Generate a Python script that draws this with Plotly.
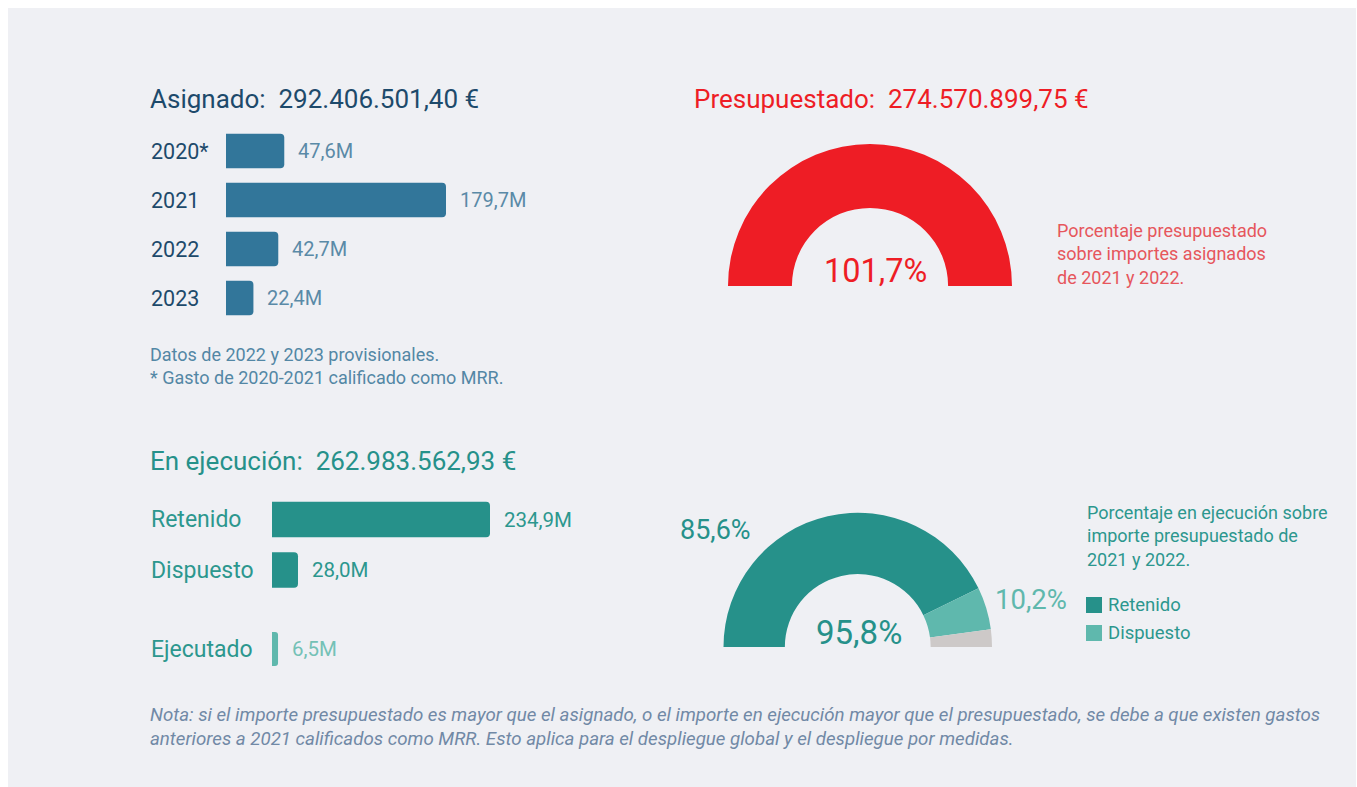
import plotly.graph_objects as go

# ---- data ----
years = ["2020*", "2021", "2022", "2023"]
asignado_m = [47.6, 179.7, 42.7, 22.4]
asignado_lbl = ["47,6M", "179,7M", "42,7M", "22,4M"]

ejec_cats = ["Retenido", "Dispuesto"]
ejec_m = [234.9, 28.0]
ejec_lbl = ["234,9M", "28,0M"]
ejecutado_cat = ["Ejecutado"]
ejecutado_m = [6.5]
ejecutado_lbl = ["6,5M"]

pct_presupuestado = 101.7
pct_retenido = 85.6
pct_dispuesto = 10.2
pct_ejecucion = 95.8

total_asignado = "292.406.501,40 €"
total_presupuestado = "274.570.899,75 €"
total_ejecucion = "262.983.562,93 €"

# ---- style ----
W, H = 1357, 787
FONT = "Roboto"
BG = "#eff0f4"
NAVY = "#1d4a6b"
STEEL = "#32769a"
STEEL_TXT = "#5a8aa7"
NOTE_TXT = "#5387a5"
RED = "#ee1d25"
RED_TXT = "#e6565c"
TEAL = "#26918a"
TEAL_TXT = "#2c978e"
TEAL_LIGHT = "#5fb8ad"
GREY = "#cdc9c8"
NOTA_TXT = "#7189a6"


def px(x):
    return x / W


def py(y):
    return 1 - y / H


def pct(v):
    return f"{v:.1f}%".replace(".", ",")


fig = go.Figure()

# Asignado bars
fig.add_trace(go.Bar(
    x=asignado_m, y=years, orientation="h", xaxis="x", yaxis="y",
    marker=dict(color=STEEL, cornerradius=4, line=dict(width=0)),
    width=0.7, hoverinfo="skip", showlegend=False,
))
# En ejecución bars
fig.add_trace(go.Bar(
    x=ejec_m, y=ejec_cats, orientation="h", xaxis="x2", yaxis="y2",
    marker=dict(color=TEAL, cornerradius=4, line=dict(width=0)),
    width=0.7, hoverinfo="skip", showlegend=False,
))
fig.add_trace(go.Bar(
    x=ejecutado_m, y=ejecutado_cat, orientation="h", xaxis="x2", yaxis="y3",
    marker=dict(color=TEAL_LIGHT, cornerradius=3, line=dict(width=0)),
    width=0.68, hoverinfo="skip", showlegend=False,
))

# Half-donut: presupuestado (capped at a full semicircle)
fill = min(pct_presupuestado, 100)
fig.add_trace(go.Pie(
    values=[fill, 100 - fill, 100],
    marker=dict(colors=[RED, GREY, "rgba(0,0,0,0)"], line=dict(width=0)),
    hole=0.55, rotation=-90, direction="clockwise", sort=False,
    textinfo="none", hoverinfo="skip", showlegend=False,
    domain=dict(x=[px(728), px(1012)], y=[py(428), py(144)]),
))

# Half-donut: en ejecución
rest = round(100 - pct_retenido - pct_dispuesto, 1)
fig.add_trace(go.Pie(
    values=[pct_retenido, pct_dispuesto, rest, 100],
    marker=dict(colors=[TEAL, TEAL_LIGHT, GREY, "rgba(0,0,0,0)"], line=dict(width=0)),
    hole=0.543, rotation=-90, direction="clockwise", sort=False,
    textinfo="none", hoverinfo="skip", showlegend=False,
    domain=dict(x=[px(723.5), px(992)], y=[py(781.3), py(512.7)]),
))

hidden = dict(visible=False, showgrid=False, zeroline=False, fixedrange=True)
fig.update_layout(
    width=W, height=H, margin=dict(l=0, r=0, t=0, b=0),
    paper_bgcolor="white", plot_bgcolor="rgba(0,0,0,0)",
    font=dict(family=FONT),
    xaxis=dict(domain=[px(226), px(600)], range=[0, 374 / (220 / 179.7)], anchor="y", **hidden),
    yaxis=dict(domain=[py(322.5), py(126.5)], type="category", categoryorder="array",
               categoryarray=years, range=[3.5, -0.5], anchor="x", **hidden),
    xaxis2=dict(domain=[px(272), px(600)], range=[0, 328 / (218 / 234.9)], anchor="y2", **hidden),
    yaxis2=dict(domain=[py(595.25), py(494.25)], type="category", categoryorder="array",
                categoryarray=ejec_cats, range=[1.5, -0.5], anchor="x2", **hidden),
    yaxis3=dict(domain=[py(674), py(624)], type="category", range=[0.5, -0.5],
                anchor="x2", **hidden),
    showlegend=False,
)

# background panel
fig.add_shape(type="rect", xref="paper", yref="paper", x0=px(8), x1=px(1356),
              y0=py(H + 5), y1=py(8), fillcolor=BG, line=dict(width=0), layer="below")

annotations = []


def txt(x, y, text, size, color, xanchor="left", italic=False, xref="paper", yref="paper", xshift=0):
    annotations.append(dict(
        x=x, y=y, xref=xref, yref=yref, text=text, showarrow=False,
        xanchor=xanchor, yanchor="middle", xshift=xshift, align=xanchor if xanchor != "center" else "center",
        font=dict(family=FONT, size=size, color=color, style="italic" if italic else "normal"),
    ))


# headings
txt(px(148), py(99), "Asignado:\u00a0 " + total_asignado, 26, NAVY)
txt(px(692), py(99), "Presupuestado:\u00a0 " + total_presupuestado, 26, RED)
txt(px(148), py(461), "En ejecución:\u00a0 " + total_ejecucion, 26, TEAL)

# asignado bar labels (category index positions)
for i, (yr, v, lb) in enumerate(zip(years, asignado_m, asignado_lbl)):
    txt(px(149), i, yr, 21.5, NAVY, yref="y")
    txt(v, i, lb, 20, STEEL_TXT, xref="x", yref="y", xshift=12)

txt(px(148), py(355), "Datos de 2022 y 2023 provisionales.", 18, NOTE_TXT)
txt(px(148), py(378), "* Gasto de 2020-2021 calificado como MRR.", 18, NOTE_TXT)

# ejecución bar labels
for i, (c, v, lb) in enumerate(zip(ejec_cats, ejec_m, ejec_lbl)):
    txt(px(149), i, c, 23, TEAL_TXT, yref="y2")
    txt(v, i, lb, 20.5, TEAL_TXT, xref="x2", yref="y2", xshift=12)
for i, (c, v, lb) in enumerate(zip(ejecutado_cat, ejecutado_m, ejecutado_lbl)):
    txt(px(149), i, c, 23, TEAL_TXT, yref="y3")
    txt(v, i, lb, 20.5, "#74c1b6", xref="x2", yref="y3", xshift=12)

# gauge labels
txt(px(875), py(271), pct(pct_presupuestado), 32.5, RED, xanchor="center")
txt(px(1055), py(254), "Porcentaje presupuestado<br>sobre importes asignados<br>de 2021 y 2022.",
    18, RED_TXT)
txt(px(715), py(530), pct(pct_retenido), 27, TEAL, xanchor="center")
txt(px(1031), py(599), pct(pct_dispuesto), 27.5, TEAL_LIGHT, xanchor="center")
txt(px(859), py(632), pct(pct_ejecucion), 33, TEAL, xanchor="center")
txt(px(1085), py(536), "Porcentaje en ejecución sobre<br>importe presupuestado de<br>2021 y 2022.",
    18, TEAL_TXT)

# custom legend for the execution gauge
for yc, col, name in [(605, TEAL, "Retenido"), (633, TEAL_LIGHT, "Dispuesto")]:
    fig.add_shape(type="rect", xref="paper", yref="paper",
                  x0=px(1086), x1=px(1102), y0=py(yc + 8), y1=py(yc - 8),
                  fillcolor=col, line=dict(width=0))
    txt(px(1106), py(yc), name, 18.5, TEAL_TXT)

# footnote
txt(px(148), py(727),
    "Nota: si el importe presupuestado es mayor que el asignado, o el importe en ejecución mayor que el presupuestado, se debe a que existen gastos"
    "<br>anteriores a 2021 calificados como MRR. Esto aplica para el despliegue global y el despliegue por medidas.",
    18.7, NOTA_TXT, italic=True)

fig.update_layout(annotations=annotations)
fig.write_html("out.html")
